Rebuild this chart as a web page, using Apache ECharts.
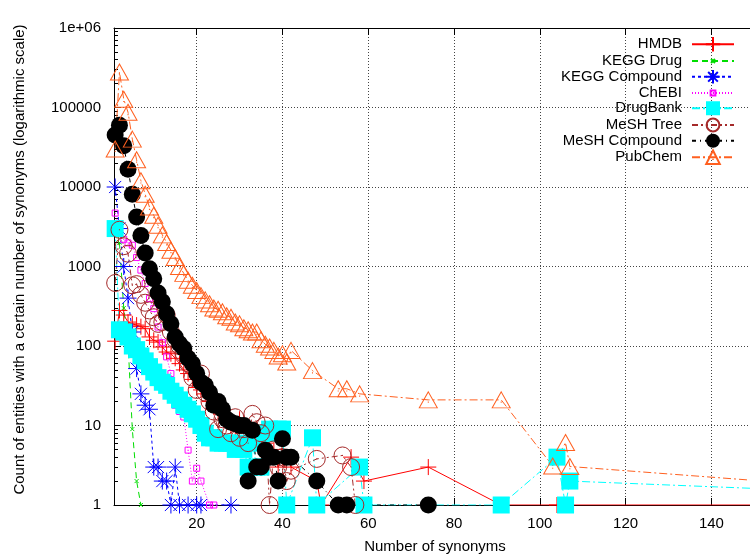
<!DOCTYPE html>
<html>
<head>
<meta charset="utf-8">
<script src="https://cdn.jsdelivr.net/npm/echarts@6/dist/echarts.min.js"></script>
<style>
  html, body { margin: 0; padding: 0; background: #fff; }
  #main { width: 750px; height: 554px; }
</style>
</head>
<body>
<div id="main"></div>
<script>
// values: [number of synonyms, count]
const hmdb = [[1,115],[2,280],[3,245],[4,200],[5,190],[6,183],[7,175],[8,165],[9,130],[10,118],[11,112],[12,97],[13,84],[14,80],[15,70],[16,60],[17,50],[18,45],[19,38],[20,30],[21,28],[22,25],[23,20],[24,17],[25,15],[26,14],[27,12],[28,10],[29,9],[30,12],[31,8],[32,9],[33,6],[34,7],[35,5],[36,6],[37,4],[38,5],[39,3],[40,4],[41,4],[42,3],[48,2],[49,1],[56,4],[59,2],[74,3],[91,1],[104,1],[300,1]];
const keggDrug = [[1,3500],[2,2000],[3,300],[4,110],[5,9],[6,2],[7,1]];
const keggCompound = [[1,10000],[2,3000],[3,1000],[4,400],[5,150],[6,52],[7,25],[8,18],[9,16],[10,3],[11,3],[12,2],[13,2],[14,1],[15,3],[16,1],[18,1],[20,1],[21,1],[28,1]];
const chebi = [[1,4700],[2,3000],[3,2200],[4,1980],[5,1850],[6,1300],[7,900],[8,610],[9,395],[10,295],[11,173],[12,110],[13,73],[14,45],[15,18],[16,15],[17,12.8],[18,4.9],[19,2],[20,2.9],[21,2],[23,1],[24,1]];
const drugBank = [[1,3000],[2,160],[3,150],[4,130],[5,100],[6,90],[7,75],[8,65],[9,55],[10,47],[11,40],[12,35],[13,32],[14,27],[15,24],[16,21],[17,18],[18,16],[19,14],[20,12],[21,10],[22,8],[23,7],[24,7],[25,6],[26,6],[27,6],[28,6],[29,5],[30,6],[31,5],[32,3],[33,6],[34,3],[35,3],[36,8],[37,9],[38,8],[39,9],[40,9],[41,1],[47,7],[48,1],[58,3],[59,1],[91,1],[104,4],[106,1],[107,2],[247,1]];
const meshTree = [[1,620],[2,2900],[3,1800],[4,1450],[5,580],[6,600],[7,440],[8,350],[9,280],[10,230],[11,190],[12,200],[13,245],[14,150],[15,120],[16,100],[17,80],[18,60],[19,40],[20,28],[21,45],[22,26],[23,20],[24,15],[25,9],[26,12],[27,10],[28,8],[29,12.7],[30,7],[31,9],[32,6],[33,14],[34,11],[35,8],[36,10],[37,1],[38,5],[39,3],[40,4],[41,2],[42,2.7],[48,3.8],[54,4.2],[56,3],[57,1]];
const meshCompound = [[1,45000],[2,60000],[3,33000],[4,16700],[5,8100],[6,4200],[7,2450],[8,1480],[9,940],[10,700],[11,465],[12,360],[13,255],[14,190],[15,130],[16,107],[17,93],[18,70],[19,60],[20,45],[21,35],[22,32],[23,26],[24,18],[25,20],[26,16],[27,12],[28,11],[29,10.5],[30,10],[31,10],[32,2],[33,8.7],[34,3],[35,3],[36,4.9],[37,4],[38,4],[39,2],[40,6.8],[41,4],[42,4],[48,2],[53,1],[55,1],[74,1]];
const pubChem = [[1,30000],[2,280000],[3,127000],[4,87000],[5,40000],[6,22000],[7,12000],[8,8100],[9,5600],[10,4400],[11,3300],[12,2500],[13,2000],[14,1600],[15,1300],[16,1000],[17,820],[18,670],[19,580],[20,500],[21,430],[22,380],[23,340],[24,300],[25,290],[26,270],[27,240],[28,230],[29,200],[30,190],[31,170],[32,160],[33,150],[34,150],[35,120],[36,105],[37,97],[38,88],[39,75],[40,80],[41,63],[42,88],[47,49],[53,29],[55,29],[58,25],[74,21],[91,21],[103,3.1],[106,6.1],[107,3.05],[226,1]];

const yMinorTicks = [];
for (let d = 1; d < 1e6; d *= 10) {
  for (let k = 2; k <= 9; k++) yMinorTicks.push(k * d);
}

const font = 'Liberation Sans, Arial, sans-serif';
const plus = 'path://M0,8 L16,8 M8,0 L8,16';
const star = 'path://M0,8 L16,8 M8,0 L8,16 M2.3,2.3 L13.7,13.7 M2.3,13.7 L13.7,2.3';
const cross = 'path://M0,0 L4,4 M0,4 L4,0';
const smallBox = 'path://M0,0 L8,0 L8,8 L0,8 Z M4,3.5 L4,4.5';
const ring = 'path://M16,8 A8,8 0 1 1 0,8 A8,8 0 1 1 16,8 Z M8,7.5 L8,8.5';
const tri = 'path://M8,0 L16,14 L0,14 Z M8,8.5 L8,9.5';

function lineSeries(name, data, color, dash, symbol, size, filled) {
  return {
    name: name,
    type: 'line',
    data: data,
    symbol: symbol,
    symbolSize: size,
    showAllSymbol: true,
    lineStyle: { color: color, width: 1, type: dash },
    itemStyle: filled
      ? { color: color }
      : { color: 'transparent', borderColor: color, borderWidth: 1 },
    emphasis: { disabled: true }
  };
}

const series = [
  lineSeries('HMDB', hmdb, '#ff0000', 'solid', plus, 16, false),
  lineSeries('KEGG Drug', keggDrug, '#00dd00', [6, 4], cross, 4, false),
  lineSeries('KEGG Compound', keggCompound, '#0000ff', [3, 3], star, 17, false),
  lineSeries('ChEBI', chebi, '#ff00ff', [1, 2], smallBox, 6, false),
  lineSeries('DrugBank', drugBank, '#00ffff', [8, 3, 2, 3], 'rect', 17, true),
  lineSeries('MeSH Tree', meshTree, '#a52a2a', [6, 3, 2, 3, 2, 3], ring, 17, false),
  lineSeries('MeSH Compound', meshCompound, '#000000', [4, 4, 1, 4], 'circle', 17, true),
  lineSeries('PubChem', pubChem, '#ff6020', [8, 3, 2, 3], tri, [18, 16], false)
];

// one legend per row so the texts line up on the right like gnuplot's key
const legendRows = [
  ['HMDB', 43, 18], ['KEGG Drug', 59.5, 5], ['KEGG Compound', 75.5, 17],
  ['ChEBI', 91.5, 6], ['DrugBank', 107.5, 17.5], ['MeSH Tree', 123.5, 16],
  ['MeSH Compound', 140, 17.5], ['PubChem', 156, 17]
];
const legends = legendRows.map(function (r) {
  const h = Math.max(r[2], 16);
  return {
    data: [r[0]],
    orient: 'vertical',
    align: 'right',
    right: 15,
    top: r[1] - h / 2 + 2,
    padding: 0,
    itemWidth: 42,
    itemHeight: r[2],
    selectedMode: false,
    textStyle: { fontFamily: font, fontSize: 15, color: '#000', padding: [0, 5, 0, 0] }
  };
});

const chart = echarts.init(document.getElementById('main'), null, { renderer: 'canvas' });
chart.setOption({
  animation: false,
  backgroundColor: '#fff',
  grid: { left: 114, right: 0, top: 28, bottom: 49, containLabel: false, outerBoundsMode: 'none' },
  legend: legends,
  xAxis: [{
    type: 'value',
    min: 0.73,
    max: 149,
    splitNumber: 7,
    name: 'Number of synonyms',
    nameLocation: 'middle',
    nameGap: 34,
    nameTextStyle: { fontFamily: font, fontSize: 15, color: '#000', padding: [0, 0, 0, 6] },
    axisLine: { lineStyle: { color: '#000', width: 1 } },
    axisTick: { inside: true, length: 7, lineStyle: { color: '#000' } },
    axisLabel: { fontFamily: font, fontSize: 15, color: '#000', margin: 11, showMinLabel: false, showMaxLabel: false },
    splitLine: { show: true, lineStyle: { color: '#444', width: 1, type: [1, 2] } }
  }, {
    type: 'value',
    position: 'top',
    min: 0.73,
    max: 149,
    splitNumber: 7,
    axisLine: { lineStyle: { color: '#000', width: 1 } },
    axisTick: { inside: true, length: 7, lineStyle: { color: '#000' } },
    axisLabel: { show: false },
    splitLine: { show: false }
  }],
  yAxis: [{
    type: 'log',
    logBase: 10,
    min: 1,
    max: 1000000,
    splitNumber: 6,
    name: 'Count of entities with a certain number of synonyms (logarithmic scale)',
    nameLocation: 'middle',
    nameGap: 87,
    nameTextStyle: { fontFamily: font, fontSize: 15, color: '#000', padding: [0, 0, 0, 14] },
    axisLine: { show: true, lineStyle: { color: '#000', width: 1 } },
    axisTick: { inside: true, length: 7, lineStyle: { color: '#000' } },
    axisLabel: {
      fontFamily: font, fontSize: 15, color: '#000', margin: 13,
      formatter: function (v) { return v >= 1e6 ? '1e+06' : String(Math.round(v)); }
    },
    splitLine: { show: true, lineStyle: { color: '#444', width: 1, type: [1, 2] } }
  }, {
    type: 'log',
    logBase: 10,
    min: 1,
    max: 1000000,
    position: 'left',
    axisLine: { show: false },
    axisTick: { show: true, inside: true, length: 4, customValues: yMinorTicks, lineStyle: { color: '#000' } },
    axisLabel: { show: false },
    splitLine: { show: false }
  }],
  series: series
});
</script>
</body>
</html>
